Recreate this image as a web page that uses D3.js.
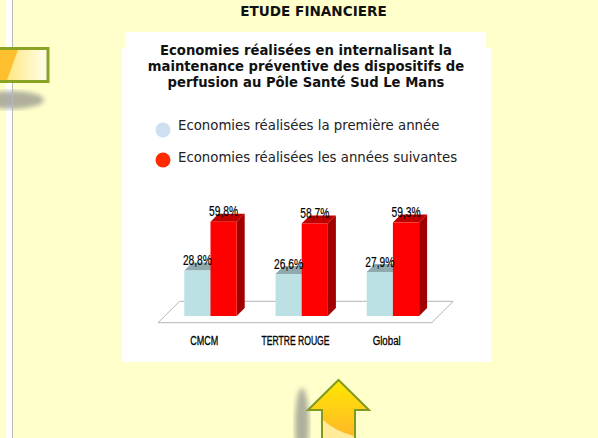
<!DOCTYPE html>
<html>
<head>
<meta charset="utf-8">
<script src="https://cdn.jsdelivr.net/npm/d3@7"></script>
<style>
html, body { margin: 0; padding: 0; background: #ffffcc; overflow: hidden; }
svg { display: block; }
</style>
</head>
<body>
<div id="chart"></div>
<script>
const sites = ["CMCM", "TERTRE ROUGE", "Global"];
const firstYear = [28.8, 26.6, 27.9];
const nextYears = [59.8, 58.7, 59.3];
const firstLabels = ["28,8%", "26,6%", "27,9%"];
const nextLabels = ["59,8%", "58,7%", "59,3%"];
const seriesNames = ["Economies réalisées la première année", "Economies réalisées les années suivantes"];
const titleLines = ["Economies réalisées en internalisant la", "maintenance préventive des dispositifs de", "perfusion au Pôle Santé Sud Le Mans"];

const svg = d3.select("#chart").append("svg")
    .attr("width", 598)
    .attr("height", 438);

const defs = svg.append("defs");
defs.append("filter").attr("id", "blur").append("feGaussianBlur").attr("stdDeviation", 2.5);

const boxGrad = defs.append("linearGradient").attr("id", "boxGrad");
boxGrad.append("stop").attr("offset", "0%").attr("stop-color", "#ffe060");
boxGrad.append("stop").attr("offset", "100%").attr("stop-color", "#fffff0");

const arrowGrad = defs.append("linearGradient").attr("id", "arrowGrad")
    .attr("x1", 0).attr("x2", 0).attr("y1", 0).attr("y2", 1);
arrowGrad.append("stop").attr("offset", "0%").attr("stop-color", "#ffe800");
arrowGrad.append("stop").attr("offset", "100%").attr("stop-color", "#ffb030");

// page decoration
svg.append("rect").attr("x", 6).attr("y", 0).attr("width", 6).attr("height", 438).attr("fill", "#ffffff");
svg.append("ellipse").attr("cx", 11).attr("cy", 100).attr("rx", 33).attr("ry", 9)
    .attr("fill", "#8f8f88").attr("opacity", 0.7).attr("filter", "url(#blur)");
svg.append("rect").attr("x", 12).attr("y", 0).attr("width", 1).attr("height", 438).attr("fill", "#b8b8b8");

svg.append("rect").attr("x", -5).attr("y", 48.5).attr("width", 53).attr("height", 33)
    .attr("fill", "url(#boxGrad)").attr("stroke", "#8ba322").attr("stroke-width", 3);
svg.append("path").attr("d", "M0,50 L18,50 L7,80 L0,80 Z").attr("fill", "#ffc030");

svg.append("ellipse").attr("cx", 302).attr("cy", 425).attr("rx", 7).attr("ry", 37)
    .attr("fill", "#8f8f88").attr("opacity", 0.7).attr("filter", "url(#blur)");
svg.append("path")
    .attr("d", "M338.5,380 L369,410 L355,410 L355,445 L322,445 L322,410 L308,410 Z")
    .attr("fill", "url(#arrowGrad)").attr("stroke", "#7f9a1f").attr("stroke-width", 2);
svg.append("path").attr("d", "M323,420 Q335,431 354,436 L354,438 L323,438 Z").attr("fill", "#ffeb9a");

// white panel
svg.append("rect").attr("x", 125).attr("y", 32).attr("width", 361).attr("height", 20).attr("fill", "#fff");
svg.append("rect").attr("x", 122).attr("y", 48).attr("width", 369).attr("height", 314).attr("fill", "#fff");

svg.append("text")
    .attr("x", 313.5).attr("y", 16)
    .attr("text-anchor", "middle")
    .style("font", "bold 13.6px 'DejaVu Sans'")
    .attr("fill", "#111")
    .text("ETUDE FINANCIERE");

svg.selectAll(".title")
    .data(titleLines)
    .enter()
    .append("text")
    .attr("class", "title")
    .attr("x", 306)
    .attr("y", (d, i) => 55 + i * 16)
    .attr("text-anchor", "middle")
    .style("font", "bold 13.2px 'DejaVu Sans'")
    .attr("fill", "#111")
    .text(d => d);

// legend
const legendDotY = [130, 160];
const legendTextY = [130, 162];
const legendColors = ["#cddff0", "#ff2a00"];
svg.selectAll(".legend-dot")
    .data(seriesNames)
    .enter()
    .append("circle")
    .attr("class", "legend-dot")
    .attr("cx", 163)
    .attr("cy", (d, i) => legendDotY[i])
    .attr("r", 7.5)
    .attr("fill", (d, i) => legendColors[i]);
svg.selectAll(".legend-text")
    .data(seriesNames)
    .enter()
    .append("text")
    .attr("class", "legend-text")
    .attr("x", 178)
    .attr("y", (d, i) => legendTextY[i])
    .style("font", "13.3px 'DejaVu Sans'")
    .attr("fill", "#222")
    .text(d => d);

// chart
const y = d3.scaleLinear().domain([0, 60]).range([316, 221.4]);
const x = d3.scaleBand().domain(sites).range([164.9, 438.5]).paddingInner(0).paddingOuter(0);
const barW = 26.2;
const depth = 8;
const groupX = d => x(d) + (x.bandwidth() - barW * 2) / 2;

// floor
const floorLeft = 158, floorRight = 431.7, floorFront = 322.7, floorBack = 301.3, floorSkew = 21.6;
svg.append("path")
    .attr("d", `M${floorLeft},${floorFront} L${floorRight},${floorFront} L${floorRight + floorSkew},${floorBack} L${floorLeft + floorSkew},${floorBack} Z`)
    .attr("fill", "#fff")
    .attr("stroke", "#b5b5b5")
    .attr("stroke-width", 1);

function drawBars(values, offset, front, top, side) {
    const g = svg.append("g");
    const bx = (d, i) => groupX(sites[i]) + offset;
    g.selectAll(".side").data(values).enter().append("path")
        .attr("fill", side)
        .attr("d", (d, i) => {
            const r = bx(d, i) + barW;
            return `M${r},${y(d)} L${r + depth},${y(d) - depth} L${r + depth},${y(0) - depth} L${r},${y(0)} Z`;
        });
    g.selectAll(".top").data(values).enter().append("path")
        .attr("fill", top)
        .attr("d", (d, i) => {
            const l = bx(d, i);
            return `M${l},${y(d)} L${l + depth},${y(d) - depth} L${l + barW + depth},${y(d) - depth} L${l + barW},${y(d)} Z`;
        });
    g.selectAll(".front").data(values).enter().append("rect")
        .attr("fill", front)
        .attr("x", bx)
        .attr("y", d => y(d))
        .attr("width", barW)
        .attr("height", d => y(0) - y(d));
}
drawBars(firstYear, 0, "#bbe1e5", "#8fa9ac", "#8fa9ac");
drawBars(nextYears, barW, "#ff0000", "#bf0000", "#a00000");

function drawLabels(values, labels, offset) {
    svg.selectAll(null)
        .data(values)
        .enter()
        .append("text")
        .attr("x", (d, i) => groupX(sites[i]) + offset)
        .attr("y", d => y(d) - 5.5)
        .attr("text-anchor", "middle")
        .attr("textLength", 29)
        .attr("lengthAdjust", "spacingAndGlyphs")
        .style("font", "14px 'Liberation Sans'")
        .attr("fill", "#000")
        .attr("stroke", "#000")
        .attr("stroke-width", 0.2)
        .text((d, i) => labels[i]);
}
drawLabels(firstYear, firstLabels, barW / 2);
drawLabels(nextYears, nextLabels, barW * 1.5);

const nameWidths = [28, 68, 28];
svg.selectAll(".site")
    .data(sites)
    .enter()
    .append("text")
    .attr("class", "site")
    .attr("x", d => groupX(d) + 20)
    .attr("y", 345)
    .attr("text-anchor", "middle")
    .attr("textLength", (d, i) => nameWidths[i])
    .attr("lengthAdjust", "spacingAndGlyphs")
    .style("font", "12.5px 'Liberation Sans'")
    .attr("fill", "#000")
    .attr("stroke", "#000")
    .attr("stroke-width", 0.3)
    .text(d => d);
</script>
</body>
</html>
